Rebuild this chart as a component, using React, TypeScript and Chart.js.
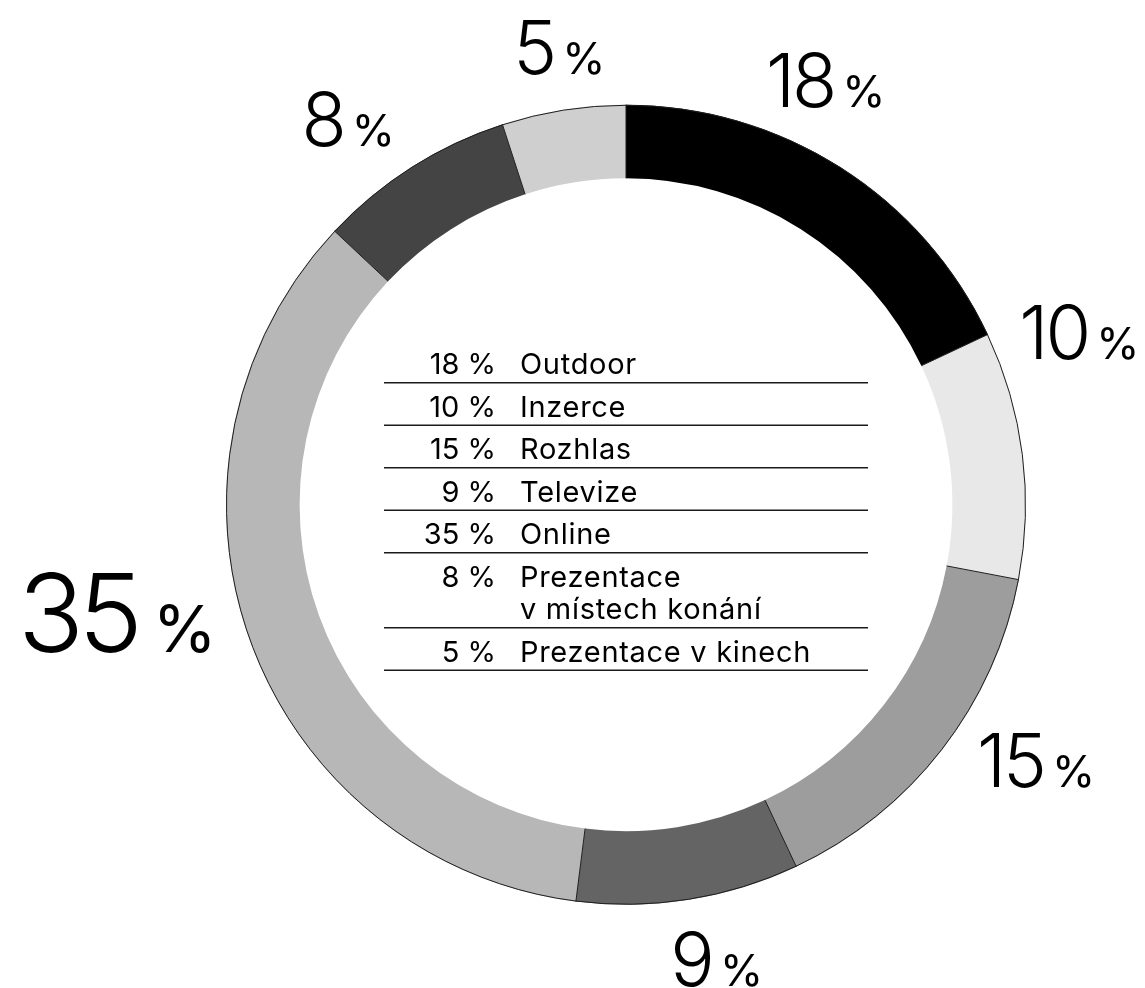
import React, { useEffect, useRef } from "react";
import { Chart, registerables } from "chart.js";

Chart.register(...registerables);

// ---- data ----
const categories = [
  "Outdoor",
  "Inzerce",
  "Rozhlas",
  "Televize",
  "Online",
  "Prezentace v místech konání",
  "Prezentace v kinech",
];
const legendLines = [
  ["Outdoor"],
  ["Inzerce"],
  ["Rozhlas"],
  ["Televize"],
  ["Online"],
  ["Prezentace", "v místech konání"],
  ["Prezentace v kinech"],
];
const values = [18, 10, 15, 9, 35, 8, 5];
const colors = ["#000000", "#e8e8e8", "#9d9d9d", "#646464", "#b7b7b7", "#444444", "#cfcfcf"];

// ---- outer label placement (angle shift from slice middle in degrees, distance beyond outer radius in px) ----
const labelAngleShift = [-7.2, -13.6, -5.9, -2.3, 7.8, -3.4, 0.7];
const labelDistance = [69, 85, 83, 63, 120, 75, 62];

const FONT = "Inter, 'Noto Sans', sans-serif";

const outlinePlugin = {
  id: "outline",
  afterDatasetsDraw(chart: any) {
    const meta = chart.getDatasetMeta(0);
    const ctx = chart.ctx;
    ctx.save();
    ctx.strokeStyle = "#1e1e1e";
    ctx.lineWidth = 1;
    meta.data.forEach((arc: any) => {
      const { x, y, startAngle, endAngle, outerRadius, innerRadius } = arc.getProps(
        ["x", "y", "startAngle", "endAngle", "outerRadius", "innerRadius"],
        true
      );
      ctx.beginPath();
      ctx.arc(x, y, outerRadius - 0.5, startAngle, endAngle);
      ctx.stroke();
      ctx.beginPath();
      ctx.moveTo(x + Math.cos(startAngle) * innerRadius, y + Math.sin(startAngle) * innerRadius);
      ctx.lineTo(x + Math.cos(startAngle) * outerRadius, y + Math.sin(startAngle) * outerRadius);
      ctx.stroke();
    });
    ctx.restore();
  },
};

const labelsPlugin = {
  id: "outerLabels",
  afterDraw(chart: any) {
    const meta = chart.getDatasetMeta(0);
    const ctx = chart.ctx as any;
    const maxV = Math.max(...values);
    ctx.save();
    ctx.fillStyle = "#000";
    ctx.textBaseline = "alphabetic";
    ctx.textAlign = "left";
    meta.data.forEach((arc: any, i: number) => {
      const { x, y, startAngle, endAngle, outerRadius } = arc.getProps(
        ["x", "y", "startAngle", "endAngle", "outerRadius"],
        true
      );
      const mid = (startAngle + endAngle) / 2 + (labelAngleShift[i] * Math.PI) / 180;
      const r = outerRadius + labelDistance[i];
      const cx = x + Math.cos(mid) * r;
      const cy = y + Math.sin(mid) * r;
      const big = values[i] === maxV;
      const numSize = big ? 109 : 74;
      const pctSize = big ? 65 : 44;
      const gap = big ? 10 : 5;
      const ls = big ? -6 : -3;
      const numText = String(values[i]);
      ctx.font = `300 ${numSize}px ${FONT}`;
      ctx.letterSpacing = `${ls}px`;
      const wNum = ctx.measureText(numText).width - ls;
      ctx.letterSpacing = "0px";
      ctx.font = `400 ${pctSize}px ${FONT}`;
      const wPct = ctx.measureText("%").width;
      const total = wNum + gap + wPct;
      const capH = numSize * 0.727;
      const base = cy + capH / 2;
      const left = cx - total / 2;
      ctx.font = `300 ${numSize}px ${FONT}`;
      ctx.letterSpacing = `${ls}px`;
      ctx.fillText(numText, left, base);
      ctx.letterSpacing = "0px";
      ctx.font = `400 ${pctSize}px ${FONT}`;
      ctx.fillText("%", left + wNum + gap, base);
    });
    ctx.restore();
  },
};

const tablePlugin = {
  id: "centerTable",
  afterDraw(chart: any) {
    const arc = chart.getDatasetMeta(0).data[0];
    if (!arc) return;
    const { x, y } = arc.getProps(["x", "y"], true);
    const ctx = chart.ctx as any;
    ctx.save();
    ctx.fillStyle = "#000";
    ctx.strokeStyle = "#1a1a1a";
    ctx.lineWidth = 1.3;
    const lineL = x - 242;
    const lineR = x + 242;
    const pctRight = x - 130;
    const textLeft = x - 106;
    let baseline = y - 130.5;
    legendLines.forEach((lines, i) => {
      ctx.font = `400 29px ${FONT}`;
      ctx.letterSpacing = "0px";
      ctx.textAlign = "right";
      ctx.fillText(`${values[i]} %`, pctRight, baseline);
      ctx.textAlign = "left";
      ctx.letterSpacing = "0.7px";
      lines.forEach((t, j) => {
        ctx.fillText(t, textLeft, baseline + j * 32.5);
      });
      const lineY = baseline + (lines.length - 1) * 32.5 + 8.5;
      ctx.beginPath();
      ctx.moveTo(lineL, lineY);
      ctx.lineTo(lineR, lineY);
      ctx.stroke();
      baseline = lineY + 34;
    });
    ctx.restore();
  },
};

export default function App() {
  const ref = useRef<HTMLCanvasElement | null>(null);
  useEffect(() => {
    if (!ref.current) return;
    const chart = new Chart(ref.current, {
      type: "doughnut",
      data: {
        labels: categories,
        datasets: [
          {
            data: values,
            backgroundColor: colors,
            borderWidth: 0,
          },
        ],
      },
      options: {
        animation: false,
        responsive: true,
        maintainAspectRatio: false,
        cutout: "81.6%",
        layout: { padding: { left: 226, right: 119, top: 104.5, bottom: 83 } },
        plugins: {
          legend: { display: false },
          tooltip: { enabled: false },
        },
      },
      plugins: [outlinePlugin, labelsPlugin, tablePlugin],
    });
    return () => chart.destroy();
  }, []);
  return (
    <div style={{ position: "absolute", left: 0, top: 0, width: 1145, height: 988, background: "#fff" }}>
      <canvas ref={ref} />
    </div>
  );
}
